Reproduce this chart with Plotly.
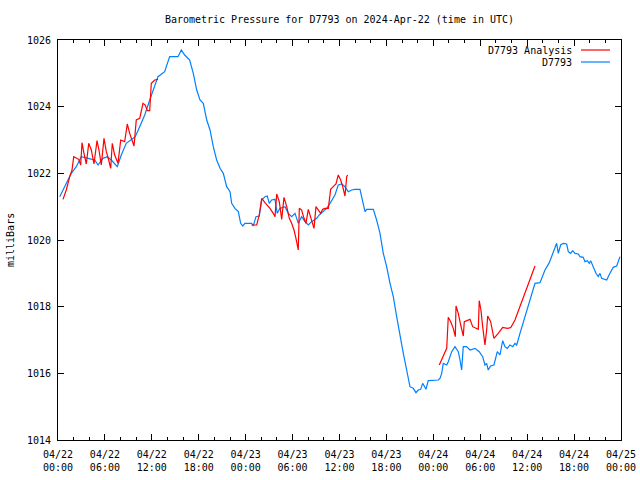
import plotly.graph_objects as go
from datetime import datetime, timedelta

BASE = datetime(2024, 4, 22, 0, 0)

# D7793 observed (hours since 2024-04-22 00:00 UTC, mbar)
obs_hours = [0.22, 0.86, 1.70, 2.34, 2.98, 3.84, 4.69, 5.12, 5.75, 6.30, 6.82, 7.58, 8.09, 8.73, 9.37, 9.88,
             10.45, 11.09, 11.73, 12.15, 12.79, 13.64, 14.07, 14.28, 15.35, 15.77, 16.20, 16.84, 17.30, 17.74,
             18.16, 18.58, 19.02, 19.44, 19.86, 20.29, 20.72, 21.14, 21.57, 22.0, 22.21, 22.63, 23.06, 23.36,
             23.62, 23.91, 24.77, 24.97, 25.32, 25.74, 26.05, 26.47, 26.76, 27.02, 27.33, 27.75, 28.04, 28.39,
             29.03, 29.45, 29.88, 30.31, 30.73, 31.16, 31.59, 32.01, 32.44, 33.08, 33.41, 34.36, 34.78, 35.42,
             35.84, 36.28, 36.70, 37.12, 37.56, 37.98, 38.62, 38.96, 39.26, 39.48, 40.32, 40.75, 41.18, 41.60,
             42.03, 42.46, 42.88, 43.31, 43.73, 44.16, 44.59, 45.01, 45.43, 45.78, 46.07, 46.38, 46.64, 47.06,
             47.35, 48.63, 48.85, 49.07, 49.27, 49.71, 49.91, 50.35, 50.77, 51.19, 51.41, 51.62, 51.83, 52.26,
             52.69, 53.32, 53.87, 54.31, 54.60, 54.82, 55.02, 55.33, 55.75, 56.18, 56.52, 56.87, 57.16, 57.46,
             57.80, 58.15, 58.44, 58.66, 59.08, 59.72, 60.36, 61.00, 61.64, 62.28, 62.83, 63.26, 63.55, 63.77,
             63.98, 64.28, 64.62, 65.05, 65.26, 65.56, 65.82, 66.11, 66.54, 66.75, 67.17, 67.39, 67.69, 67.94,
             68.12, 68.45, 68.80, 69.09, 69.31, 69.53, 70.17, 70.59, 71.01, 71.45, 71.66, 71.87]
obs_pres = [1021.3, 1021.6, 1022.0, 1022.2, 1022.5, 1022.45, 1022.4, 1022.25, 1022.45, 1022.5, 1022.4, 1022.2,
            1022.55, 1022.9, 1023.0, 1023.1, 1023.4, 1023.75, 1024.2, 1024.5, 1024.9, 1025.05, 1025.4, 1025.5,
            1025.5, 1025.7, 1025.55, 1025.4, 1025.0, 1024.5, 1024.2, 1024.1, 1023.6, 1023.3, 1022.8, 1022.4,
            1022.15, 1022.0, 1021.6, 1021.45, 1021.1, 1020.95, 1020.85, 1020.5, 1020.42, 1020.5, 1020.5, 1020.42,
            1020.7, 1020.72, 1021.2, 1021.3, 1021.32, 1021.1, 1021.2, 1021.22, 1020.8, 1020.95, 1021.0, 1020.8,
            1020.7, 1020.8, 1020.5, 1020.7, 1020.55, 1020.45, 1020.55, 1020.65, 1020.75, 1020.95, 1021.1, 1021.35,
            1021.65, 1021.68, 1021.6, 1021.45, 1021.5, 1021.52, 1021.52, 1021.2, 1020.85, 1020.92, 1020.92, 1020.6,
            1020.2, 1019.6, 1019.2, 1018.7, 1018.3, 1017.7, 1017.1, 1016.6, 1016.1, 1015.6, 1015.55, 1015.42,
            1015.5, 1015.52, 1015.7, 1015.52, 1015.78, 1015.8, 1015.85, 1016.0, 1016.3, 1016.25, 1016.35, 1016.65,
            1016.8, 1016.65, 1016.4, 1016.1, 1016.8, 1016.8, 1016.7, 1016.75, 1016.65, 1016.5, 1016.25, 1016.3,
            1016.1, 1016.22, 1016.25, 1016.65, 1016.55, 1016.98, 1016.8, 1016.75, 1016.85, 1016.8, 1016.9, 1016.85,
            1017.2, 1017.7, 1018.2, 1018.7, 1018.72, 1019.1, 1019.32, 1019.6, 1019.75, 1019.9, 1019.6, 1019.85,
            1019.9, 1019.88, 1019.65, 1019.6, 1019.68, 1019.6, 1019.58, 1019.5, 1019.48, 1019.35, 1019.38, 1019.3,
            1019.38, 1019.2, 1019.0, 1018.9, 1019.0, 1018.85, 1018.8, 1019.0, 1019.18, 1019.22, 1019.35, 1019.5]

# D7793 Analysis, three separate runs
ana1_hours = [0.64, 1.06, 1.50, 1.79, 2.01, 2.34, 2.65, 2.90, 3.07, 3.32, 3.62, 3.93, 4.26, 4.60, 4.99, 5.24,
              5.54, 5.88, 6.18, 6.48, 6.74, 6.94, 7.25, 7.67, 8.02, 8.53, 8.86, 9.17, 9.46, 9.72, 10.01, 10.45,
              10.87, 11.16, 11.42, 11.73, 11.93, 12.37, 12.79]
ana1_pres = [1021.22, 1021.5, 1021.9, 1022.1, 1022.5, 1022.45, 1022.42, 1022.25, 1022.92, 1022.6, 1022.28,
             1022.9, 1022.7, 1022.28, 1022.98, 1022.7, 1022.25, 1023.05, 1022.65, 1022.4, 1022.15, 1022.9,
             1022.55, 1022.3, 1023.0, 1022.95, 1023.48, 1023.2, 1023.0, 1022.82, 1023.6, 1023.65, 1024.1,
             1024.05, 1023.88, 1023.88, 1024.7, 1024.8, 1024.82]
ana2_hours = [24.77, 25.41, 25.74, 26.05, 26.47, 27.11, 27.53, 27.75, 27.97, 28.30, 28.61, 28.90, 29.25, 29.58,
              29.88, 30.18, 30.43, 30.73, 30.86, 31.16, 31.46, 31.71, 32.01, 32.23, 32.57, 32.74, 32.99, 33.29,
              33.59, 33.85, 34.14, 34.57, 34.87, 35.20, 35.55, 35.84, 36.15, 36.41, 36.70, 36.92, 37.05]
ana2_pres = [1020.45, 1020.45, 1020.75, 1021.25, 1021.12, 1020.95, 1020.8, 1020.7, 1021.38, 1021.15, 1020.62,
             1021.28, 1021.0, 1020.65, 1020.5, 1020.3, 1020.05, 1019.7, 1020.95, 1020.9, 1020.65, 1020.5,
             1020.92, 1020.75, 1020.5, 1020.35, 1021.0, 1020.88, 1020.8, 1020.92, 1020.95, 1020.95, 1021.52,
             1021.6, 1021.68, 1021.95, 1021.8, 1021.6, 1021.32, 1021.9, 1021.95]
ana3_hours = [48.76, 49.27, 49.71, 49.91, 50.22, 50.55, 50.81, 50.90, 51.19, 51.50, 51.83, 51.96, 52.34, 52.69,
              53.03, 53.45, 53.75, 53.87, 54.09, 54.31, 54.60, 54.82, 54.95, 55.33, 55.75, 56.30, 56.87, 57.46,
              57.89, 58.44, 59.08, 59.72, 60.36, 61.00]
ana3_pres = [1016.25, 1016.5, 1016.75, 1017.68, 1017.55, 1017.35, 1017.1, 1018.02, 1017.8, 1017.45, 1017.12,
             1017.55, 1017.58, 1017.62, 1017.4, 1017.35, 1017.32, 1018.18, 1017.9, 1017.4, 1016.85, 1017.3,
             1017.72, 1017.55, 1017.05, 1017.2, 1017.38, 1017.35, 1017.37, 1017.6, 1018.0, 1018.4, 1018.8,
             1019.22]

tick_hours = list(range(0, 73, 6))
minor_hours = [h for h in range(0, 73, 2) if h % 6 != 0]
tick_labels = ["04/22<br>00:00", "04/22<br>06:00", "04/22<br>12:00", "04/22<br>18:00",
               "04/23<br>00:00", "04/23<br>06:00", "04/23<br>12:00", "04/23<br>18:00",
               "04/24<br>00:00", "04/24<br>06:00", "04/24<br>12:00", "04/24<br>18:00",
               "04/25<br>00:00"]
y_ticks = [1014, 1016, 1018, 1020, 1022, 1024, 1026]

RED = "#ff0000"
BLUE = "#0080ff"
FONT = "DejaVu Sans Mono"


def to_dt(h):
    return [BASE + timedelta(hours=v) if v is not None else None for v in h]


ana_hours = ana1_hours + [None] + ana2_hours + [None] + ana3_hours
ana_pres = ana1_pres + [None] + ana2_pres + [None] + ana3_pres

fig = go.Figure()
fig.add_trace(go.Scatter(x=to_dt(obs_hours), y=obs_pres, mode="lines", name="D7793",
                         line=dict(color=BLUE, width=1.2), connectgaps=False, hoverinfo="skip"))
fig.add_trace(go.Scatter(x=to_dt(ana_hours), y=ana_pres, mode="lines", name="D7793 Analysis",
                         line=dict(color=RED, width=1.2), connectgaps=False, hoverinfo="skip"))

fig.update_layout(
    width=640, height=480,
    margin=dict(l=58, r=19, t=40, b=40, autoexpand=False),
    paper_bgcolor="white", plot_bgcolor="white",
    showlegend=False,
    font=dict(family=FONT, size=10, color="black"),
    title=dict(text="Barometric Pressure for D7793 on 2024-Apr-22 (time in UTC)",
               x=0.5, xref="paper", y=1 - 19 / 480, yref="container",
               xanchor="center", yanchor="middle", font=dict(family=FONT, size=10)),
)

fig.update_xaxes(
    range=[BASE, BASE + timedelta(hours=72)],
    tickmode="array", tickvals=to_dt(tick_hours), ticktext=tick_labels,
    ticks="inside", ticklen=6, tickcolor="black", tickwidth=1,
    showline=True, linecolor="black", linewidth=1, mirror="ticks",
    showgrid=False, zeroline=False, automargin=False, ticklabelstandoff=5,
    minor=dict(ticks="inside", ticklen=3, tickcolor="black", tickwidth=1,
               tickmode="array", tickvals=to_dt(minor_hours), showgrid=False),
    tickfont=dict(family=FONT, size=10),
)
fig.update_yaxes(
    range=[1014, 1026], tickvals=y_ticks, ticktext=[str(v) for v in y_ticks],
    ticks="inside", ticklen=6, tickcolor="black", tickwidth=1,
    showline=True, linecolor="black", linewidth=1, mirror="ticks",
    showgrid=False, zeroline=False, automargin=False, ticklabelstandoff=4,
    tickfont=dict(family=FONT, size=10),
)

# y-axis title
fig.add_annotation(text="milliBars", xref="paper", yref="paper", x=(10 - 58) / 563, y=0.5,
                   textangle=-90, showarrow=False, xanchor="center", yanchor="middle",
                   font=dict(family=FONT, size=10))

# gnuplot-style key (text then line sample)
legend_items = [("D7793 Analysis", RED, (440 - 50) / 400), ("D7793", BLUE, (440 - 62) / 400)]
for label, color, yp in legend_items:
    fig.add_annotation(text=label, xref="paper", yref="paper", x=(574 - 58) / 563, y=yp,
                       xanchor="right", yanchor="middle", showarrow=False,
                       font=dict(family=FONT, size=10))
    fig.add_shape(type="line", xref="paper", yref="paper",
                  x0=(581 - 58) / 563, x1=(610 - 58) / 563, y0=yp, y1=yp,
                  line=dict(color=color, width=1.2))

fig.write_html("out.html", config={"displayModeBar": False},
               post_script="document.body.style.margin='0';document.body.style.padding='0';")
